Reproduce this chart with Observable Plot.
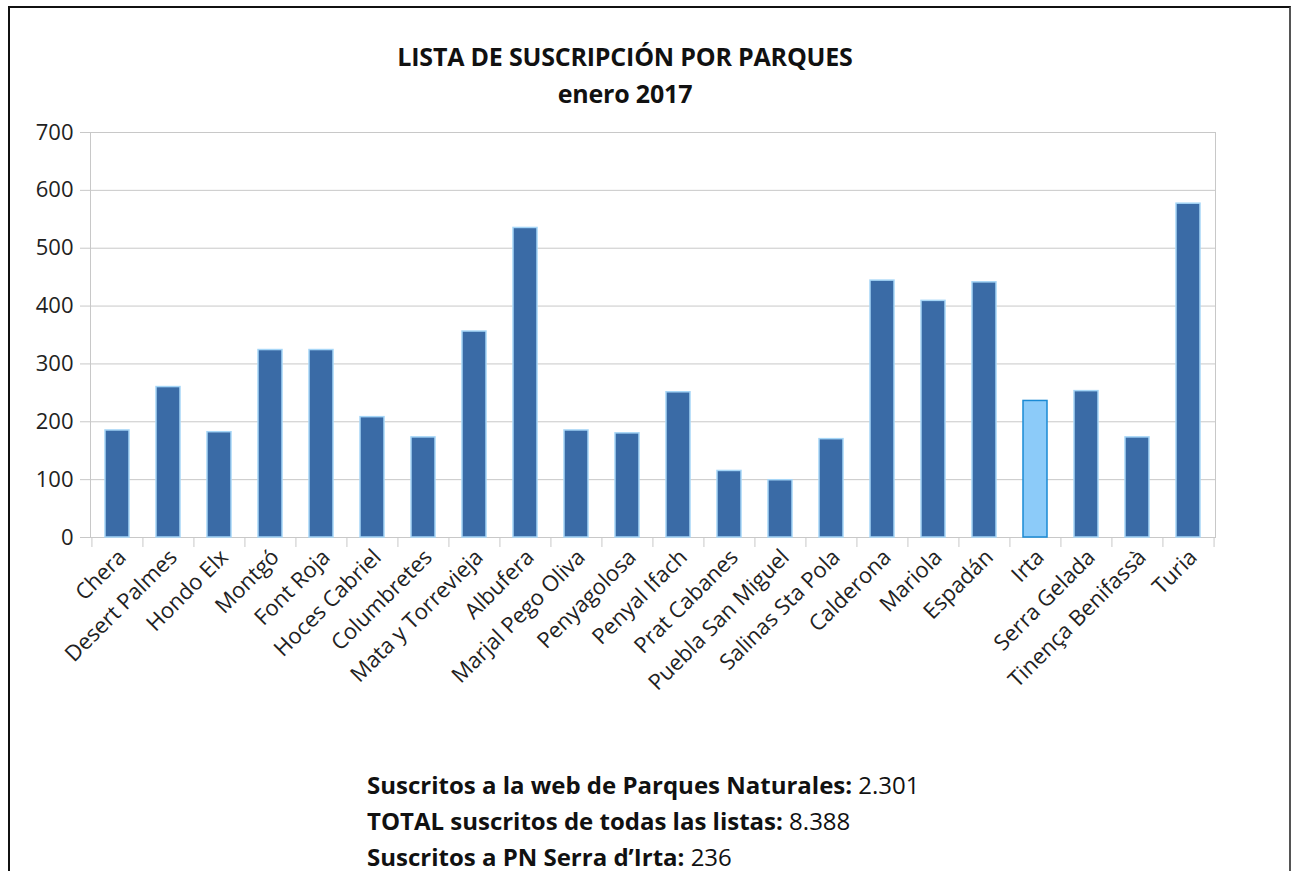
<!DOCTYPE html>
<html>
<head>
<meta charset="utf-8">
<script src="https://cdn.jsdelivr.net/npm/d3@7"></script>
<script src="https://cdn.jsdelivr.net/npm/@observablehq/plot@0.6"></script>
<style>
  html, body { margin: 0; padding: 0; background: #fff; width: 1296px; height: 871px; overflow: hidden; }
  body { position: relative; font-family: "Open Sans", sans-serif; color: #111; }
  #frame { position: absolute; left: 8px; top: 6px; width: 1283px; height: 900px; border: 2px solid #111; border-right-color: #555; box-sizing: border-box; }
  #title { position: absolute; left: 0; width: 1250px; top: 38px; text-align: center; font-weight: bold; font-size: 25px; line-height: 37px; letter-spacing: -0.2px; }
  #chart { position: absolute; left: 0; top: 100px; }
  #notes { position: absolute; left: 367px; top: 767px; font-size: 24px; line-height: 36px; white-space: nowrap; }
  #notes b { font-weight: bold; }
</style>
</head>
<body>
<div id="frame"></div>
<div id="title">LISTA DE SUSCRIPCIÓN POR PARQUES<br>enero 2017</div>
<div id="chart"></div>
<div id="notes"></div>
<script>
// Data
const parks = ["Chera","Desert Palmes","Hondo Elx","Montgó","Font Roja","Hoces Cabriel","Columbretes","Mata y Torrevieja","Albufera","Marjal Pego Oliva","Penyagolosa","Penyal Ifach","Prat Cabanes","Puebla San Miguel","Salinas Sta Pola","Calderona","Mariola","Espadán","Irta","Serra Gelada","Tinença Benifassà","Turia"];
const subscribers = [185, 260, 182, 324, 324, 208, 173, 356, 535, 185, 180, 251, 115, 99, 170, 444, 409, 441, 236, 253, 173, 577];
const highlighted = ["Irta"];
const yTicks = [0, 100, 200, 300, 400, 500, 600, 700];
const noteLabels = ["Suscritos a la web de Parques Naturales:", "TOTAL suscritos de todas las listas:", "Suscritos a PN Serra d’Irta:"];
const noteValues = ["2.301", "8.388", "236"];

const data = parks.map((p, i) => ({park: p, value: subscribers[i]}));

const W = 1296, H = 660;
const mL = 90, mR = 81, mT = 32, mB = 223;
const step = (W - mL - mR) / parks.length;
const grid = "#c8c8c8";

const chart = Plot.plot({
  width: W,
  height: H,
  marginLeft: mL,
  marginRight: mR,
  marginTop: mT,
  marginBottom: mB,
  style: {fontFamily: "Open Sans, sans-serif", fontSize: "22px", color: "#222", background: "transparent", overflow: "visible"},
  x: {domain: parks, paddingInner: 0.52, paddingOuter: 0.26, label: null},
  y: {domain: [0, 700], label: null},
  marks: [
    Plot.gridY(yTicks, {stroke: grid, strokeOpacity: 1}),
    Plot.frame({stroke: grid}),
    Plot.axisY(yTicks, {tickSize: 10, tickPadding: 7, stroke: grid, fill: "#222", label: null}),
    Plot.axisX({tickSize: 10, tickFormat: () => "", dx: -step / 2, stroke: grid, label: null}),
    Plot.axisX([parks[parks.length - 1]], {tickSize: 10, tickFormat: () => "", dx: step / 2, stroke: grid, label: null}),
    Plot.axisX({tickSize: 0, tickPadding: 16, tickRotate: -45, dx: 5, fill: "#222", label: null, fontSize: 22}),
    Plot.barY(data, {
      x: "park",
      y: "value",
      fill: d => highlighted.includes(d.park) ? "#8ccbf9" : "#3a6ba6",
      stroke: d => highlighted.includes(d.park) ? "#1a8ad4" : "#a6d6f7",
      strokeWidth: 1.5
    })
  ]
});
document.getElementById("chart").appendChild(chart);

const notes = document.getElementById("notes");
noteLabels.forEach((l, i) => {
  const div = document.createElement("div");
  const b = document.createElement("b");
  b.textContent = l;
  div.appendChild(b);
  div.appendChild(document.createTextNode(" " + noteValues[i]));
  notes.appendChild(div);
});
</script>
</body>
</html>
